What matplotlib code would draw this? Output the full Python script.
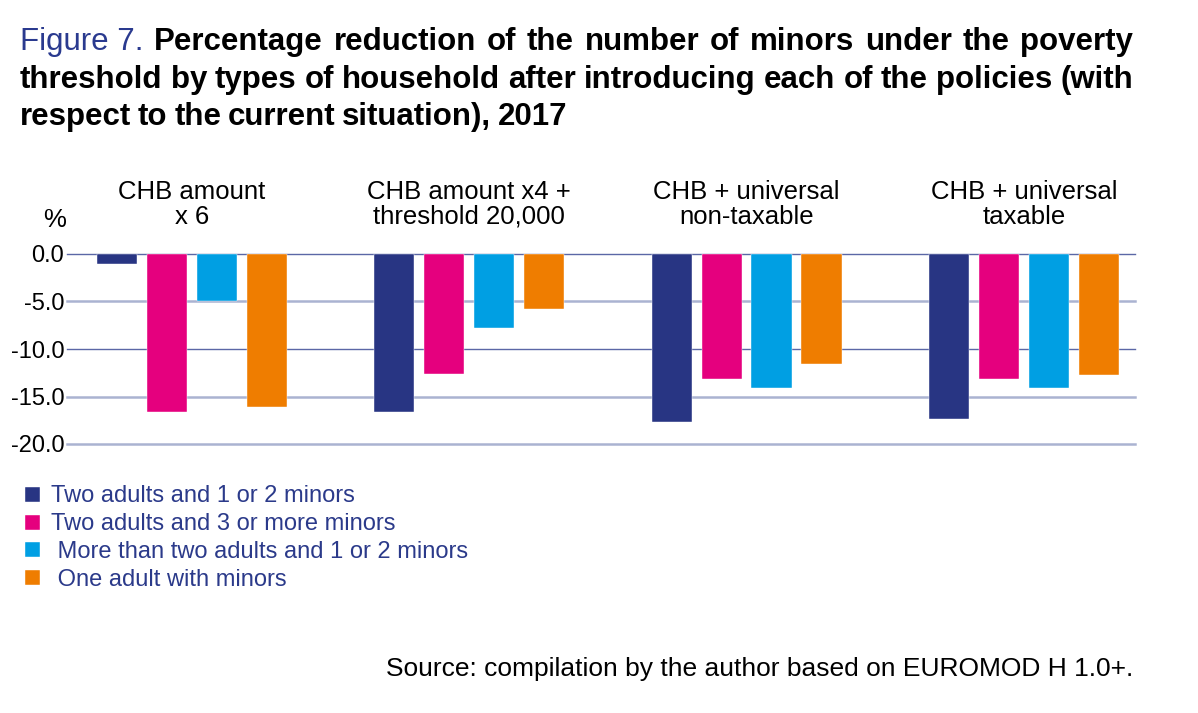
import numpy as np
import matplotlib
matplotlib.use("Agg")
import matplotlib.pyplot as plt

policies = ["CHB amount\nx 6", "CHB amount x4 +\nthreshold 20,000",
            "CHB + universal\nnon-taxable", "CHB + universal\ntaxable"]
households = ["Two adults and 1 or 2 minors",
              "Two adults and 3 or more minors",
              " More than two adults and 1 or 2 minors",
              " One adult with minors"]
two_adults_1_2 = [-1.1, -16.6, -17.7, -17.4]
two_adults_3plus = [-16.6, -12.6, -13.2, -13.2]
more_adults_1_2 = [-4.9, -7.8, -14.1, -14.1]
one_adult = [-16.1, -5.8, -11.6, -12.7]
yticks = [0, -5, -10, -15, -20]

series = [two_adults_1_2, two_adults_3plus, more_adults_1_2, one_adult]
colors = ["#283583", "#e5007e", "#009fe3", "#ef7d00"]
navy = "#2b3a8a"

W, H = 1198, 713
fig = plt.figure(figsize=(W / 100, H / 100), dpi=100)
plt.rcParams["font.family"] = ["Liberation Sans", "DejaVu Sans"]

# axes placed in pixel coords: x 67..1135, y 254 (0) .. 444 (-20)
ax = fig.add_axes([67 / W, 1 - 444 / H, (1135 - 67) / W, (444 - 254) / H])
ax.set_xlim(-0.45, 3.40)
ax.set_ylim(-20, 0)

x = np.arange(len(policies))
step, width = 0.18, 0.145
for i, (vals, col) in enumerate(zip(series, colors)):
    ax.bar(x + (i - 1.5) * step, vals, width, color=col, label=households[i],
           zorder=3, edgecolor="white", linewidth=0.3)

for v in yticks:
    dark = v in (0, -10)
    ax.axhline(v, color="#5b67a6" if dark else "#aab3d1",
               lw=1.0 if dark else 1.8, zorder=1, clip_on=False)

for s in ax.spines.values():
    s.set_visible(False)
ax.set_xticks([])
ax.set_yticks(yticks)
ax.set_yticklabels([f"{v:.1f}" for v in yticks], fontsize=17)
ax.tick_params(axis="y", length=0, pad=2)

for xi, lab in zip(x, policies):
    ax.text(xi, 1 + (254 - 229) / 190, lab, transform=ax.get_xaxis_transform(),
            ha="center", va="bottom", fontsize=18.5, linespacing=1.05)
fig.text(55 / W, 1 - 227 / H, "%", fontsize=18.5, ha="center", va="baseline")

leg = ax.legend(loc="upper left", bbox_to_anchor=(16 / W, 1 - 476 / H),
                bbox_transform=fig.transFigure, frameon=False,
                handlelength=0.6, handleheight=0.6, handletextpad=0.5,
                labelspacing=0.25, fontsize=17, labelcolor=navy,
                borderaxespad=0)

fig.text(1133 / W, 1 - 676 / H,
         "Source: compilation by the author based on EUROMOD H 1.0+.",
         fontsize=19, ha="right", va="baseline")

# title, justified lines
fig.canvas.draw()
rend = fig.canvas.get_renderer()
tfam = ["Liberation Sans Narrow", "Liberation Sans", "DejaVu Sans"]
tsize = 22.5


def put_line(words, y_px, justify, x0=20, x1=1133):
    items = []
    for w, col, wt in words:
        t = fig.text(0, 1 - y_px / H, w, fontsize=tsize, family=tfam,
                     color=col, weight=wt, va="baseline", ha="left")
        bb = t.get_window_extent(rend)
        items.append((t, bb.width))
    total = sum(wd for _, wd in items)
    space = tsize * 0.3
    if justify and len(items) > 1:
        space = (x1 - x0 - total) / (len(items) - 1)
    pos = x0
    for t, wd in items:
        t.set_x(pos / W)
        pos += wd + space


blue_t = "#2a3a8f"
line1 = [("Figure 7.", blue_t, "normal")] + \
    [(w, "black", "bold") for w in
     "Percentage reduction of the number of minors under the poverty".split()]
line2 = [(w, "black", "bold") for w in
         "threshold by types of household after introducing each of the policies (with".split()]
line3 = [(w, "black", "bold") for w in
         "respect to the current situation), 2017".split()]
put_line(line1, 50, True)
put_line(line2, 88, True)
put_line(line3, 125, False)

fig.savefig("out.png", dpi=100)
